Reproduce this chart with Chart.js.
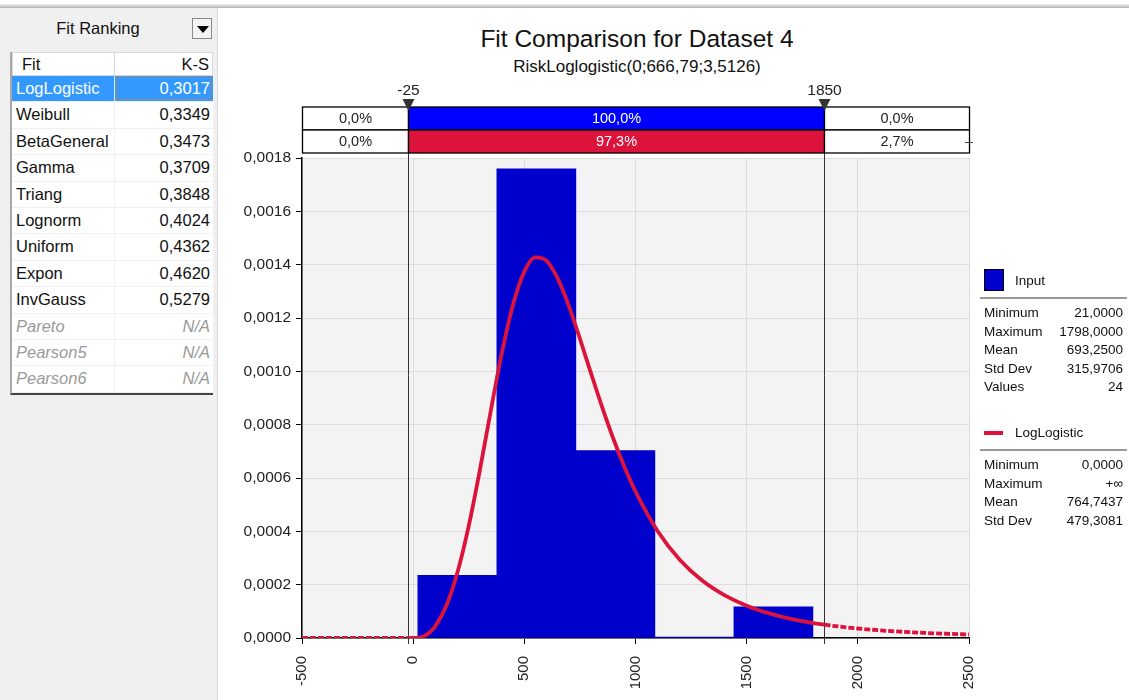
<!DOCTYPE html>
<html>
<head>
<meta charset="utf-8">
<title>Fit Comparison for Dataset 4</title>
<script src="https://cdn.jsdelivr.net/npm/chart.js@4.4.0/dist/chart.umd.min.js"></script>
<style>
  body { margin: 0; width: 1129px; height: 700px; overflow: hidden; background: #fff;
         font-family: "Liberation Sans", Arial, sans-serif; position: relative; }
  .topline { position: absolute; left: 0; top: 4px; width: 1129px; height: 4px;
             background: linear-gradient(#f4f4f4, #b0b0b0); }
  #panel { position: absolute; left: 0; top: 8px; width: 217px; height: 692px;
           background: #f0f0f0; border-right: 1px solid #dcdcdc; }
  #panel .head { position: absolute; left: 0; top: 11px; width: 196px; text-align: center;
                 font-size: 16.5px; color: #111; }
  #panel .drop { position: absolute; left: 192px; top: 10px; width: 20px; height: 21px;
                 background: #f4f4f4; border: 1px solid #888; box-sizing: border-box; }
  #panel .drop:after { content: ""; position: absolute; left: 4px; top: 7px;
                       border-left: 6px solid transparent; border-right: 6px solid transparent;
                       border-top: 7px solid #000; }
  #fits { position: absolute; left: 10px; top: 44px; width: 203px; background: #fff;
          border-left: 2px solid #a8a8a8; border-bottom: 2px solid #444; box-sizing: border-box; }
  .row { height: 26.4px; display: flex; font-size: 16.5px; color: #111; box-sizing: border-box;
         border-bottom: 1px solid #f0f0f0; }
  .row div { box-sizing: border-box; line-height: 25px; }
  .row .n { width: 103px; padding-left: 4px; border-right: 1px solid #f0f0f0; }
  .row .v { width: 98px; text-align: right; padding-right: 3px; }
  .row.hd { height: 24px; border: 1px solid #d8d8d8; }
  .row.hd .n { padding-left: 9px; border-right: 1px solid #d8d8d8; line-height: 22px; }
  .row.hd .v { line-height: 22px; }
  .row.sel .n { background: #3399ff; color: #fff; }
  .row.sel .v { background: #3399ff; color: #fff; outline: 1px dotted #c08040; outline-offset: -2px; }
  .row.na { color: #999; font-style: italic; }
  #title { position: absolute; left: 220px; width: 834px; top: 25px; text-align: center;
           font-size: 24.5px; color: #111; }
  #subtitle { position: absolute; left: 220px; width: 834px; top: 57px; text-align: center;
              font-size: 17px; color: #111; }
  #chartbox { position: absolute; left: 220px; top: 0; width: 909px; height: 700px; }
  #legend { position: absolute; left: 980px; top: 268px; width: 147px; font-size: 13.5px; color: #111; }
  .lg-key { height: 26px; position: relative; padding-left: 35px; line-height: 26px; }
  .lg-sq { position: absolute; left: 4px; top: 1px; width: 20px; height: 22px;
           background: #0000cc; border: 1px solid #000; box-sizing: border-box; }
  .lg-ln { position: absolute; left: 4px; top: 11px; width: 19px; height: 4px; background: #dc143c; }
  .lg-rule { border-top: 2px solid #999; margin: 3px 0 5px 0; }
  .st { display: flex; justify-content: space-between; height: 18.6px; line-height: 18.6px; padding: 0 4px 0 4px; }
</style>
</head>
<body>
<div class="topline"></div>
<div id="panel">
  <div class="head">Fit Ranking</div>
  <div class="drop"></div>
  <div id="fits"></div>
</div>
<div id="title">Fit Comparison for Dataset 4</div>
<div id="subtitle">RiskLoglogistic(0;666,79;3,5126)</div>
<div id="chartbox"><canvas id="graph" width="909" height="700"></canvas></div>
<div id="legend"></div>
<script>
// Fit ranking table
var fitNames = ['LogLogistic', 'Weibull', 'BetaGeneral', 'Gamma', 'Triang', 'Lognorm',
    'Uniform', 'Expon', 'InvGauss', 'Pareto', 'Pearson5', 'Pearson6'];
var fitKS = ['0,3017', '0,3349', '0,3473', '0,3709', '0,3848', '0,4024',
    '0,4362', '0,4620', '0,5279', 'N/A', 'N/A', 'N/A'];

// Histogram of the input (bin centres and density)
var binCenters = [198.7, 554.1, 909.5, 1264.9, 1620.3];
var binDensity = [0.000235, 0.001759, 0.000703, 0, 0.000117];

// LogLogistic curve
var curveX = [-25, 0, 25, 50, 75, 100, 150, 200, 250, 300, 350, 400, 450, 500, 550, 600, 650,
    700, 750, 800, 850, 900, 950, 1000, 1100, 1200, 1300, 1400, 1500, 1600, 1700, 1800, 1850];
var curveY = [0, 0, 0.0000014, 0.0000079, 0.0000217, 0.0000447, 0.0001227, 0.0002483, 0.0004206,
    0.0006295, 0.000856, 0.0010727, 0.0012527, 0.0013741, 0.0014271, 0.0014144, 0.0013483,
    0.0012454, 0.0011223, 0.0009926, 0.000866, 0.0007482, 0.0006424, 0.0005494, 0.0004004,
    0.0002926, 0.0002156, 0.0001607, 0.0001213, 0.0000927, 0.0000717, 0.0000561, 0.0000499];
var tailLeftX = [-500, -25];
var tailLeftY = [0, 0];
var tailRightX = [1850, 1900, 2000, 2100, 2200, 2300, 2400, 2500];
var tailRightY = [0.0000499, 0.0000444, 0.0000356, 0.0000287, 0.0000234, 0.0000192, 0.0000159, 0.0000133];

// Delimiters and the percentages above the plot
var delimiters = [-25, 1850];
var inputPct = ['0,0%', '100,0%', '0,0%'];
var fitPct = ['0,0%', '97,3%', '2,7%'];

// Axis ticks
var xTicks = [-500, 0, 500, 1000, 1500, 2000, 2500];
var yTicks = [0, 0.0002, 0.0004, 0.0006, 0.0008, 0.0010, 0.0012, 0.0014, 0.0016, 0.0018];

// Legend statistics
var inputStatLabels = ['Minimum', 'Maximum', 'Mean', 'Std Dev', 'Values'];
var inputStatValues = ['21,0000', '1798,0000', '693,2500', '315,9706', '24'];
var fitStatLabels = ['Minimum', 'Maximum', 'Mean', 'Std Dev'];
var fitStatValues = ['0,0000', '+\u221e', '764,7437', '479,3081'];

var BLUE = '#0000cc';
var RED = '#dc143c';
var FONT = '"Liberation Sans", Arial, sans-serif';

// Build the table on the left
var fits = document.getElementById('fits');
var hd = document.createElement('div');
hd.className = 'row hd';
hd.innerHTML = '<div class="n">Fit</div><div class="v">K-S</div>';
fits.append(hd);
fitNames.forEach(function (name, i) {
    var r = document.createElement('div');
    r.className = 'row' + (i === 0 ? ' sel' : '') + (fitKS[i] === 'N/A' ? ' na' : '');
    r.innerHTML = '<div class="n">' + name + '</div><div class="v">' + fitKS[i] + '</div>';
    fits.append(r);
});

// Legend on the right
function statBlock(labels, values) {
    var html = '';
    labels.forEach(function (l, i) {
        html += '<div class="st"><span>' + l + '</span><span>' + values[i] + '</span></div>';
    });
    return html;
}
document.getElementById('legend').innerHTML =
    '<div class="lg-key"><span class="lg-sq"></span>Input</div><div class="lg-rule"></div>' +
    statBlock(inputStatLabels, inputStatValues) +
    '<div style="height:23px"></div>' +
    '<div class="lg-key"><span class="lg-ln"></span>LogLogistic</div><div class="lg-rule"></div>' +
    statBlock(fitStatLabels, fitStatValues);

function pts(xs, ys) {
    return xs.map(function (x, i) { return { x: x, y: ys[i] }; });
}

// Plot background, delimiter lines, percentage bars
var riskPlugin = {
    id: 'risk',
    beforeDraw: function (chart) {
        var a = chart.chartArea, ctx = chart.ctx;
        ctx.save();
        ctx.fillStyle = '#f3f3f3';
        ctx.fillRect(a.left, a.top, a.right - a.left, a.bottom - a.top);
        ctx.restore();
    },
    beforeDatasetsDraw: function (chart) {
        var a = chart.chartArea, ctx = chart.ctx, sx = chart.scales.x;
        ctx.save();
        ctx.strokeStyle = '#333';
        ctx.lineWidth = 1;
        delimiters.forEach(function (d) {
            var px = Math.round(sx.getPixelForValue(d)) + 0.5;
            ctx.beginPath();
            ctx.moveTo(px, 107);
            ctx.lineTo(px, a.bottom + 6);
            ctx.stroke();
        });
        ctx.restore();
    },
    afterDraw: function (chart) {
        var a = chart.chartArea, ctx = chart.ctx, sx = chart.scales.x;
        var edges = [a.left, sx.getPixelForValue(delimiters[0]), sx.getPixelForValue(delimiters[1]), a.right];
        edges = edges.map(function (e) { return Math.round(e) + 0.5; });
        var rows = [{ top: 107, pct: inputPct, fill: '#0000ff' }, { top: 130, pct: fitPct, fill: RED }];
        ctx.save();
        ctx.font = '14.5px ' + FONT;
        ctx.textAlign = 'center';
        ctx.textBaseline = 'middle';
        rows.forEach(function (r) {
            for (var i = 0; i < 3; i++) {
                var x0 = edges[i], x1 = edges[i + 1];
                ctx.fillStyle = i === 1 ? r.fill : '#fff';
                ctx.fillRect(x0, r.top, x1 - x0, 23);
                ctx.strokeStyle = '#000';
                ctx.lineWidth = 1.3;
                ctx.strokeRect(x0, r.top, x1 - x0, 23);
                ctx.fillStyle = i === 1 ? '#fff' : '#222';
                ctx.fillText(r.pct[i], (x0 + x1) / 2, r.top + 12);
            }
        });
        // delimiter markers and their labels
        ctx.font = '15.5px ' + FONT;
        delimiters.forEach(function (d, i) {
            var px = edges[i + 1];
            ctx.fillStyle = '#333';
            ctx.beginPath();
            ctx.moveTo(px - 6, 99);
            ctx.lineTo(px + 6, 99);
            ctx.lineTo(px, 111);
            ctx.closePath();
            ctx.fill();
            ctx.fillStyle = '#222';
            ctx.textBaseline = 'alphabetic';
            ctx.fillText(String(d), px, 95);
        });
        // little handle at the right end of the fit row
        ctx.strokeStyle = '#444';
        ctx.lineWidth = 1;
        ctx.beginPath();
        ctx.moveTo(a.right - 4, 142.5);
        ctx.lineTo(a.right + 4, 142.5);
        ctx.stroke();
        ctx.restore();
    }
};

new Chart(document.getElementById('graph'), {
    type: 'bar',
    data: {
        datasets: [
            {
                type: 'line', data: pts(curveX, curveY), borderColor: RED, borderWidth: 3.8,
                pointRadius: 0, cubicInterpolationMode: 'monotone', order: 0
            },
            {
                type: 'line', data: pts(tailLeftX, tailLeftY), borderColor: RED, borderWidth: 3.8,
                borderDash: [6, 2], pointRadius: 0, order: 0
            },
            {
                type: 'line', data: pts(tailRightX, tailRightY), borderColor: RED, borderWidth: 3.8,
                borderDash: [6, 2], pointRadius: 0, cubicInterpolationMode: 'monotone', order: 0
            },
            {
                type: 'bar', data: pts(binCenters, binDensity), backgroundColor: BLUE,
                borderWidth: 0, barPercentage: 1, categoryPercentage: 1, minBarLength: 1, order: 1
            }
        ]
    },
    options: {
        responsive: false,
        animation: false,
        events: [],
        layout: { padding: { top: 158, right: 160, left: 0, bottom: 0 } },
        plugins: { legend: { display: false }, tooltip: { enabled: false } },
        scales: {
            x: {
                type: 'linear', min: -500, max: 2500, offset: false,
                afterBuildTicks: function (scale) {
                    scale.ticks = xTicks.map(function (v) { return { value: v }; });
                },
                afterFit: function (scale) { scale.height = 62; },
                grid: { color: '#dcdcdc', offset: false, tickColor: '#000', tickLength: 6 },
                border: { color: '#000', width: 1.5 },
                ticks: {
                    color: '#222', font: { family: FONT, size: 15 }, minRotation: 90, maxRotation: 90,
                    padding: 12, autoSkip: false,
                    callback: function (v) { return String(v); }
                }
            },
            y: {
                min: 0, max: 0.0018,
                afterBuildTicks: function (scale) {
                    scale.ticks = yTicks.map(function (v) { return { value: v }; });
                },
                afterFit: function (scale) { scale.width = 82; },
                grid: { color: '#dcdcdc', tickColor: '#000', tickLength: 6 },
                border: { color: '#000', width: 1.5 },
                ticks: {
                    color: '#222', font: { family: FONT, size: 15.5 }, padding: 5,
                    callback: function (v) { return v.toFixed(4).replace('.', ','); }
                }
            }
        }
    },
    plugins: [riskPlugin]
});
</script>
</body>
</html>
